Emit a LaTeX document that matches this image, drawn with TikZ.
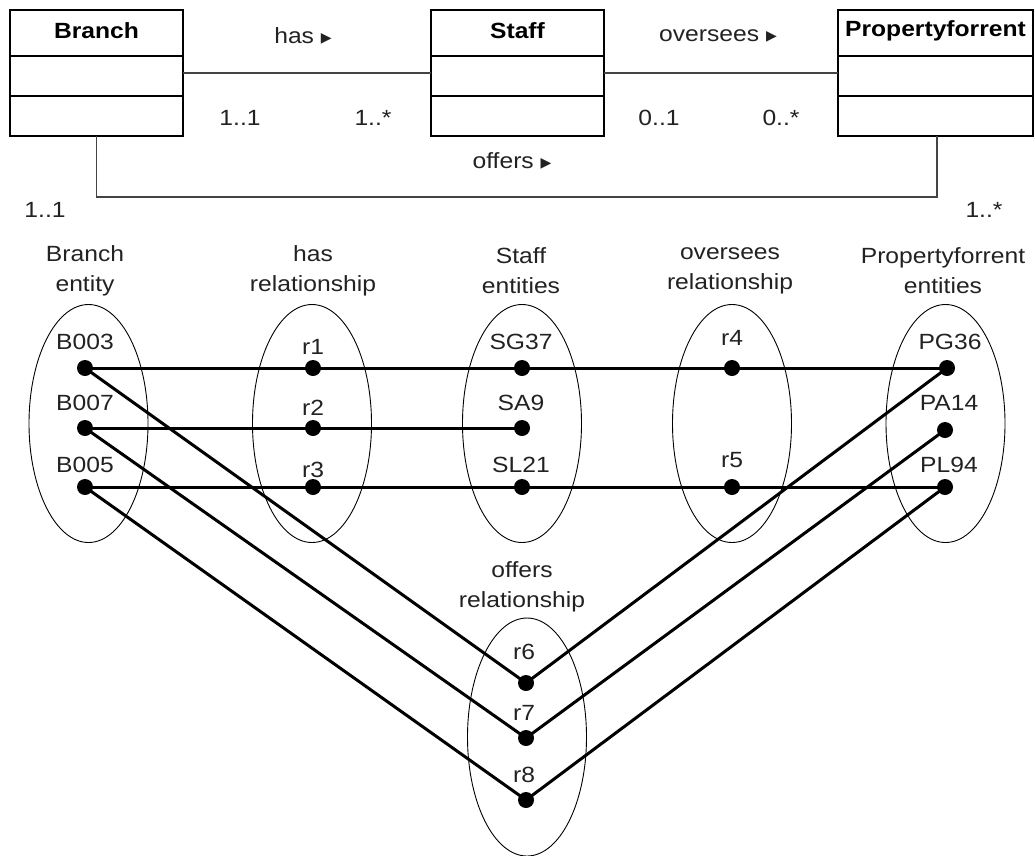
\documentclass[tikz,border=0pt]{standalone}
\usepackage{fontspec}
\setmainfont{Liberation Sans}[FakeStretch=1.12]
\newfontfamily\symfont{DejaVu Sans}
\usetikzlibrary{shapes.geometric}
\definecolor{ink}{HTML}{222222}
\definecolor{assoc}{HTML}{444444}
\newcommand{\navarrow}{\raisebox{1.5pt}{\symfont\fontsize{14}{14}\selectfont ▶}}
\begin{document}
\begin{tikzpicture}[x=1pt,y=-1pt,
  txt/.style={font=\fontsize{22}{30}\selectfont, text=ink, inner sep=0pt, align=center},
  title/.style={font=\fontsize{22}{24}\selectfont\bfseries, text=black},
  part/.style={draw=black, line width=2pt, rectangle, inner sep=0pt, outer sep=0pt},
  assocline/.style={draw=assoc, line width=1.4pt},
  set/.style={draw=black, line width=0.9pt, ellipse, inner sep=0pt, minimum width=119pt, minimum height=238pt},
  dot/.style={circle, fill=black, minimum size=16pt, inner sep=0pt},
  link/.style={draw=black, line width=3pt}
]
\useasboundingbox (0,0) rectangle (1035,855);

% ---- class boxes: title, attribute and operation compartments
\foreach \name/\cx/\w/\ttl in {branch/96.5/173/Branch, staff/517.5/173/Staff, prop/935.5/195/Propertyforrent}{
  \node[part, minimum width=\w pt, minimum height=46pt] (\name T) at (\cx,33) {};
  \node[title] at (\cx,31) {\ttl};
  \node[part, minimum width=\w pt, minimum height=40pt, anchor=north] (\name A) at (\name T.south) {};
  \node[part, minimum width=\w pt, minimum height=40pt, anchor=north] (\name O) at (\name A.south) {};
}

% ---- associations
\draw[assocline] ([yshift=3pt]branchA.east) -- ([yshift=3pt]staffA.west);
\draw[assocline] ([yshift=3pt]staffA.east) -- ([yshift=3pt]propA.west);
\draw[assocline] (branchO.south) -- ++(0,61) -| ([xshift=1.5pt]propO.south);

\node[txt] (lhas) at (303,36) {has \navarrow};
\node[txt] (lovs) at (718,36) {oversees \navarrow};
\node[txt] (loff) at (512,161) {offers \navarrow};

\node[txt] (m1) at (240,118) {1..1};
\node[txt] (m2) at (373,118) {1..*};
\node[txt] (m3) at (659,118) {0..1};
\node[txt] (m4) at (781,118) {0..*};
\node[txt] (m5) at (45,210) {1..1};
\node[txt] (m6) at (984,210) {1..*};

% ---- set headings
\node[txt] (hB) at (85,271) {Branch\\entity};
\node[txt] (hH) at (313,271) {has\\relationship};
\node[txt] (hS) at (521,271) {Staff\\entities};
\node[txt] (hO) at (730,271) {oversees\\relationship};
\node[txt] (hP) at (943,271) {Propertyforrent\\entities};
\node[txt] (hF) at (522,587) {offers\\relationship};

% ---- sets
\node[set] (eB) at (88.5,423.5) {};
\node[set] (eH) at (312,423.5) {};
\node[set] (eS) at (522,423.5) {};
\node[set] (eO) at (732,423.5) {};
\node[set] (eP) at (945.5,423.5) {};
\node[set] (eF) at (527,737) {};

% ---- members
\node[dot] (b003) at (85,368) {};
\node[dot] (b007) at (85,428) {};
\node[dot] (b005) at (85,487) {};
\node[txt] at (85,342) {B003};
\node[txt] at (85,403) {B007};
\node[txt] at (85,465) {B005};

\node[dot] (r1) at (313,368) {};
\node[dot] (r2) at (313,428) {};
\node[dot] (r3) at (313,487) {};
\node[txt] at (313,347) {r1};
\node[txt] at (313,408) {r2};
\node[txt] at (313,470) {r3};

\node[dot] (sg37) at (522,368) {};
\node[dot] (sa9) at (522,428) {};
\node[dot] (sl21) at (522,487) {};
\node[txt] at (521,342) {SG37};
\node[txt] at (521,403) {SA9};
\node[txt] at (521,465) {SL21};

\node[dot] (r4) at (732,368) {};
\node[dot] (r5) at (732,487) {};
\node[txt] at (732,338) {r4};
\node[txt] at (732,460) {r5};

\node[dot] (pg36) at (947,368) {};
\node[dot] (pa14) at (945,430) {};
\node[dot] (pl94) at (945,487) {};
\node[txt] at (950,342) {PG36};
\node[txt] at (949,403) {PA14};
\node[txt] at (949,465) {PL94};

\node[dot] (r6) at (526,683) {};
\node[dot] (r7) at (526,738) {};
\node[dot] (r8) at (526,800) {};
\node[txt] at (524,652) {r6};
\node[txt] at (524,713) {r7};
\node[txt] at (524,775) {r8};

% ---- links
\draw[link] (b003.center) -- (r1.center) -- (sg37.center) -- (r4.center) -- (pg36.center);
\draw[link] (b007.center) -- (r2.center) -- (sa9.center);
\draw[link] (b005.center) -- (r3.center) -- (sl21.center) -- (r5.center) -- (pl94.center);
\draw[link] (b003.center) -- (r6.center) -- (pg36.center);
\draw[link] (b007.center) -- (r7.center) -- (pa14.center);
\draw[link] (b005.center) -- (r8.center) -- (pl94.center);
\end{tikzpicture}
\end{document}
